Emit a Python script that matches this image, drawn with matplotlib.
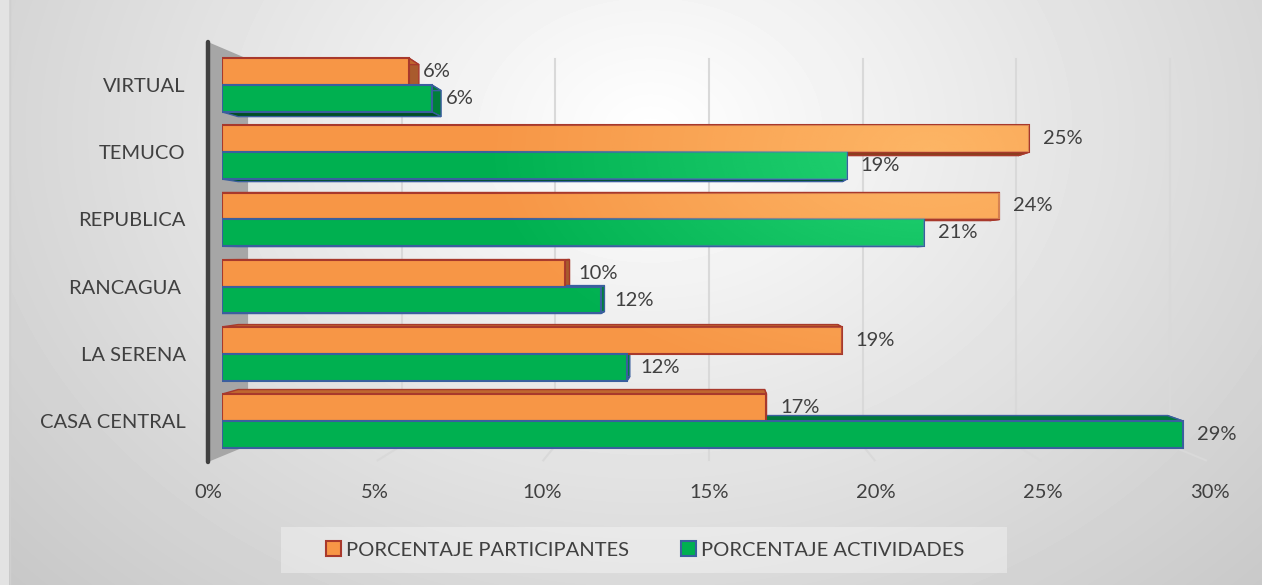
import numpy as np
import matplotlib
matplotlib.use('Agg')
import matplotlib.pyplot as plt
from matplotlib.colors import to_rgb
from matplotlib.patches import Polygon, Rectangle

plt.rcParams['font.family'] = ['Lato', 'DejaVu Sans']

# datos
sedes = ["CASA CENTRAL", "LA SERENA", "RANCAGUA ", "REPUBLICA", "TEMUCO", "VIRTUAL"]
participantes = [16.6, 18.9, 10.45, 23.7, 24.6, 5.7]
actividades = [29.3, 12.35, 11.55, 21.4, 19.05, 6.4]
ticks = [0, 5, 10, 15, 20, 25, 30]

W, H = 1262, 585
GRIS = '#404040'
fig = plt.figure(figsize=(W / 100, H / 100), dpi=100)

# fondo con degradado radial
bg = fig.add_axes([0, 0, 1, 1], zorder=0)
bg.axis('off')
yy, xx = np.mgrid[0:H, 0:W]
d = np.sqrt((xx - 650.0) ** 2 + ((yy - 130.0) * 1.3) ** 2)
shade = np.clip(1 - 0.00025 * d, 0, 1)
bg.imshow(shade, cmap='gray', vmin=0, vmax=1, extent=(0, W, H, 0), aspect='auto')
bg.add_patch(Rectangle((0, 0), 9, H, color='#e3e3e3', lw=0))
bg.plot([9.5, 9.5], [0, H], color='#cfcfcf', lw=1)
bg.add_patch(Rectangle((281, 527), 726, 46, facecolor='white', alpha=0.35, lw=0))
bg.set_xlim(0, W)
bg.set_ylim(H, 0)

ymin, ymax = -0.61, 5.64

# plano del suelo / pared: ejes de porcentajes
fl = fig.add_axes([208 / W, 123 / H, 1002 / W, 420 / H], zorder=1)
fl.patch.set_alpha(0)
fl.set_xlim(0, 30)
fl.set_ylim(ymin, ymax)

# plano de las barras
ax = fig.add_axes([222 / W, 123 / H, 984 / W, 420 / H], zorder=2)
ax.patch.set_alpha(0)

vy = 2.47
sw, sb = 0.92, 0.967


def back(x, y, s, vx):
    return vx + (x - vx) * s, vy + (y - vy) * s


# pared izquierda y rejilla
vxf = 15.0
bx0, byt = back(0, ymax, sw, vxf)
_, byb = back(0, ymin, sw, vxf)
fl.add_patch(Polygon([(0, ymin), (0, ymax), (bx0, byt), (bx0, byb)],
                     closed=True, facecolor='#a6a6a6', edgecolor='none', zorder=1, clip_on=False))
for t in ticks[1:]:
    xb, _ = back(t, 0, sw, vxf)
    fl.plot([xb, xb], [byb, byt], color='#d9d9d9', lw=1.5, zorder=1)
    fl.plot([xb, t + (xb - t) * 0.1], [byb, ymin + (byb - ymin) * 0.1],
            color='#d9d9d9', lw=1.5, zorder=1, clip_on=False)
fl.plot([0, 0], [ymin, ymax], color=GRIS, lw=3.2, solid_capstyle='round', zorder=6, clip_on=False)

fl.set_xticks(ticks)
fl.set_xticklabels([f"{t}%" for t in ticks])
fl.set_yticks(range(len(sedes)))
fl.set_yticklabels(sedes)
fl.tick_params(axis='both', length=0, labelsize=14.5, labelcolor=GRIS)
fl.tick_params(axis='x', pad=16)
fl.tick_params(axis='y', pad=16)
for s in fl.spines.values():
    s.set_visible(False)

y = np.arange(len(sedes))
b1 = ax.barh(y + 0.2, participantes, height=0.4, color='#f79646',
             edgecolor='#a8392c', linewidth=1.5, zorder=3, label='PORCENTAJE PARTICIPANTES')
b2 = ax.barh(y - 0.2, actividades, height=0.4, color='#00b050',
             edgecolor='#3a5f9e', linewidth=1.5, zorder=3, label='PORCENTAJE ACTIVIDADES')

# caras laterales (perspectiva)
vxb = (710 - 222) / 32.8
caras = [(b1, '#a95b2d', '#c0672f', '#8a3f1e', '#a8392c'),
         (b2, '#007f3a', '#007a3a', '#004f24', '#3a5f9e')]
for cont, c_der, c_sup, c_inf, c_borde in caras:
    for p in cont.patches:
        xa, ya = p.get_x(), p.get_y()
        xe, ye = xa + p.get_width(), ya + p.get_height()
        Xa, Ya = back(xa, ya, sb, vxb)
        Xe, Ye = back(xe, ye, sb, vxb)
        for pts, c in [([(xe, ya), (xe, ye), (Xe, Ye), (Xe, Ya)], c_der),
                       ([(xa, ye), (xe, ye), (Xe, Ye), (Xa, Ye)], c_sup),
                       ([(xa, ya), (xe, ya), (Xe, Ya), (Xa, Ya)], c_inf)]:
            ax.add_patch(Polygon(pts, closed=True, facecolor=c, edgecolor=c_borde,
                                 lw=1.0, zorder=2))

# brillo en la zona superior derecha
gx, gy = np.meshgrid(np.linspace(0, 30, 300), np.linspace(ymax, ymin, 200))
px = 222 + gx * 32.8
py = 462 - (gy - ymin) * 67.2
dist = np.sqrt((px - 930) ** 2 + ((py - 150) * 1.8) ** 2)
alpha = 0.75 * np.clip(1 - dist / 450, 0, 1)
for cont, brillo in [(b1, '#ffc070'), (b2, '#30e080')]:
    glow = np.zeros((200, 300, 4))
    glow[..., :3] = to_rgb(brillo)
    glow[..., 3] = alpha
    for p in cont.patches:
        im = ax.imshow(glow, extent=(0, 30, ymin, ymax), aspect='auto', zorder=3.1,
                       interpolation='bilinear')
        im.set_clip_path(p)

for vals, dy in [(participantes, 0.2), (actividades, -0.2)]:
    for yi, v in zip(y, vals):
        ax.text(v + 0.42, yi + dy, f"{v:.0f}%", ha='left', va='center',
                fontsize=14.5, color=GRIS, zorder=5)

ax.set_xlim(0, 30)
ax.set_ylim(ymin, ymax)
ax.axis('off')

fig.legend(handles=[b1, b2], loc='center', bbox_to_anchor=(645 / W, 1 - 550 / H),
           ncol=2, frameon=False, fontsize=14.5, handlelength=0.75, handleheight=0.75,
           handletextpad=0.25, columnspacing=2.6, labelcolor=GRIS)

fig.savefig('out.png', dpi=100)
